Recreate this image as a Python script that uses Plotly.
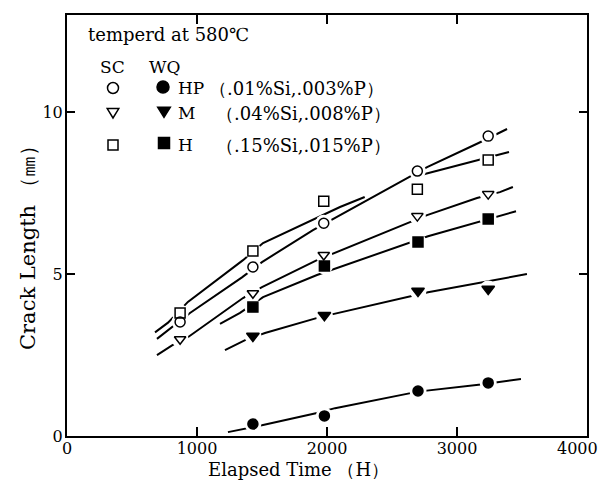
import plotly.graph_objects as go

# ---------------- data ----------------
# measured points
x_sc = [870, 1430, 1975, 2695, 3240]
sc_hp = [3.52, 5.22, 6.57, 8.18, 9.26]     # open circle
sc_m = [2.99, 4.41, 5.59, 6.79, 7.47]      # open triangle
sc_h = [3.80, 5.71, 7.25, 7.62, 8.52]      # open square

x_wq = [1430, 1980, 2700, 3240]
wq_hp = [0.37, 0.62, 1.39, 1.64]           # filled circle
wq_m = [3.09, 3.73, 4.48, 4.54]            # filled triangle
wq_h = [3.98, 5.25, 5.99, 6.70]            # filled square

# hand-drawn trend curves
fit_sc_hp_x = [692, 946, 1346, 1500, 1892, 2300, 2770, 3162, 3385]
fit_sc_hp_y = [3.00, 3.80, 4.90, 5.37, 6.36, 7.25, 8.30, 9.04, 9.48]
fit_sc_h_x = [677, 777, 930, 1354, 1508, 2100, 2290, None, 2715, 3154, 3308, 3400]
fit_sc_h_y = [3.20, 3.50, 4.14, 5.43, 5.96, 7.07, 7.38, None, 8.05, 8.52, 8.67, 8.77]
fit_sc_m_x = [692, 808, 930, 1354, 1500, 1923, 2770, 3154, 3330, 3430]
fit_sc_m_y = [2.50, 2.80, 3.05, 4.26, 4.60, 5.43, 6.82, 7.35, 7.53, 7.69]
fit_wq_h_x = [1177, 1331, 1508, 1923, 2777, 3154, 3330, 3454]
fit_wq_h_y = [3.46, 3.80, 4.29, 4.97, 6.17, 6.60, 6.79, 6.94]
fit_wq_m_x = [1215, 1370, 1523, 1946, 2777, 3538]
fit_wq_m_y = [2.65, 2.96, 3.18, 3.67, 4.44, 5.00]
fit_wq_hp_x = [1238, 1508, 1923, 2062, 2700, 3200, 3492]
fit_wq_hp_y = [0.12, 0.34, 0.71, 0.86, 1.37, 1.60, 1.76]

x_ticks = [0, 1000, 2000, 3000, 4000]
x_tick_labels = ["0", "1000", "2000", "3000", "4000"]
y_ticks = [0, 5, 10]

# ---------------- figure ----------------
OFF = 8                      # page body margin of the html page
W, H = 608 - OFF, 482 - OFF
PL, PT, PR, PB = 67, 15, 587, 436      # plot box in page pixels
ML, MT = PL - OFF, PT - OFF
PW, PH = PR - PL, PB - PT
MR, MB = W - ML - PW, H - MT - PH

SERIF = "DejaVu Serif, Liberation Serif, serif"

fig = go.Figure()

fits = [(fit_sc_hp_x, fit_sc_hp_y), (fit_sc_h_x, fit_sc_h_y), (fit_sc_m_x, fit_sc_m_y),
        (fit_wq_h_x, fit_wq_h_y), (fit_wq_m_x, fit_wq_m_y), (fit_wq_hp_x, fit_wq_hp_y)]
for fx, fy in fits:
    fig.add_trace(go.Scatter(x=fx, y=fy, mode="lines", connectgaps=False,
                             line=dict(color="black", width=2), hoverinfo="skip",
                             showlegend=False))

series = [
    (x_sc, sc_hp, "circle-open", 10),
    (x_sc, sc_m, "triangle-down-open", 10),
    (x_sc, sc_h, "square-open", 10),
    (x_wq, wq_hp, "circle", 10),
    (x_wq, wq_m, "triangle-down", 11),
    (x_wq, wq_h, "square", 10),
]
# white halos that break the lines around the symbols
for sx, sy, sym, sz in series:
    fig.add_trace(go.Scatter(x=sx, y=sy, mode="markers",
                             marker=dict(symbol="circle", size=17, color="white",
                                         line=dict(width=0)),
                             hoverinfo="skip", showlegend=False))
for sx, sy, sym, sz in series:
    fig.add_trace(go.Scatter(x=sx, y=sy, mode="markers",
                             marker=dict(symbol=sym, size=sz, color="black",
                                         line=dict(color="black", width=1.5)),
                             showlegend=False))

TICKFONT = dict(family=SERIF, size=16, color="black")
axis_common = dict(showline=True, linecolor="black", linewidth=2, mirror="ticks",
                   ticks="inside", tickcolor="black", tickwidth=1.5,
                   showgrid=False, zeroline=False, tickfont=TICKFONT)
# last x label is drawn separately so that it stays inside the page edge
fig.update_xaxes(range=[0, 4000], tickvals=x_ticks,
                 ticktext=x_tick_labels[:-1] + [""], ticklen=9,
                 ticklabelstandoff=-3, **axis_common)
fig.update_yaxes(range=[0, 13], tickvals=y_ticks, ticklen=8,
                 ticklabelstandoff=-1, **axis_common)


def px(xp):
    return (xp - PL) / PW


def py(yp):
    return (PB - yp) / PH


def text(t, xp, yp, size=17, xanchor="left", angle=0):
    fig.add_annotation(text=t, x=px(xp), y=py(yp), xref="paper", yref="paper",
                       xanchor=xanchor, yanchor="middle", showarrow=False,
                       textangle=angle, font=dict(family=SERIF, size=size, color="black"))


text(x_tick_labels[-1], 600, 448, 16, xanchor="right")

text("temperd at 580℃", 86, 34, 18)
text("SC", 98, 67, 17)
text("WQ", 147, 67, 17)
text("HP", 176, 88, 17)
text("（.01%Si,.003%P）", 207, 88, 18)
text("M", 176, 113, 17)
text("（.04%Si,.008%P）", 214, 113, 18)
text("H", 176, 145, 17)
text("（.15%Si,.015%P）", 214, 145, 18)

text("Elapsed Time （H）", 298, 469, 18, xanchor="center")
text("Crack Length （㎜）", 28, 243, 21, xanchor="center", angle=-90)


def sym_shape(kind, filled, xp, yp, s):
    base = dict(xref="paper", yref="paper", xsizemode="pixel", ysizemode="pixel",
                xanchor=px(xp), yanchor=py(yp),
                line=dict(color="black", width=1.5),
                fillcolor="black" if filled else "white")
    h = s / 2
    if kind == "circle":
        fig.add_shape(type="circle", x0=-h, x1=h, y0=-h, y1=h, **base)
    elif kind == "square":
        fig.add_shape(type="rect", x0=-h, x1=h, y0=-h, y1=h, **base)
    else:
        fig.add_shape(type="path",
                      path=f"M {-h*1.05},{h*0.8} L {h*1.05},{h*0.8} L 0,{-h*0.9} Z", **base)


sym_shape("circle", False, 113, 88, 11)
sym_shape("circle", True, 163, 87, 12)
sym_shape("tri", False, 113, 113, 11)
sym_shape("tri", True, 164, 112, 12)
sym_shape("square", False, 113, 145, 10)
sym_shape("square", True, 164, 143, 11)

fig.update_layout(width=W, height=H, margin=dict(l=ML, r=MR, t=MT, b=MB, autoexpand=False),
                  plot_bgcolor="white", paper_bgcolor="white", showlegend=False)

fig.write_html("out.html")
